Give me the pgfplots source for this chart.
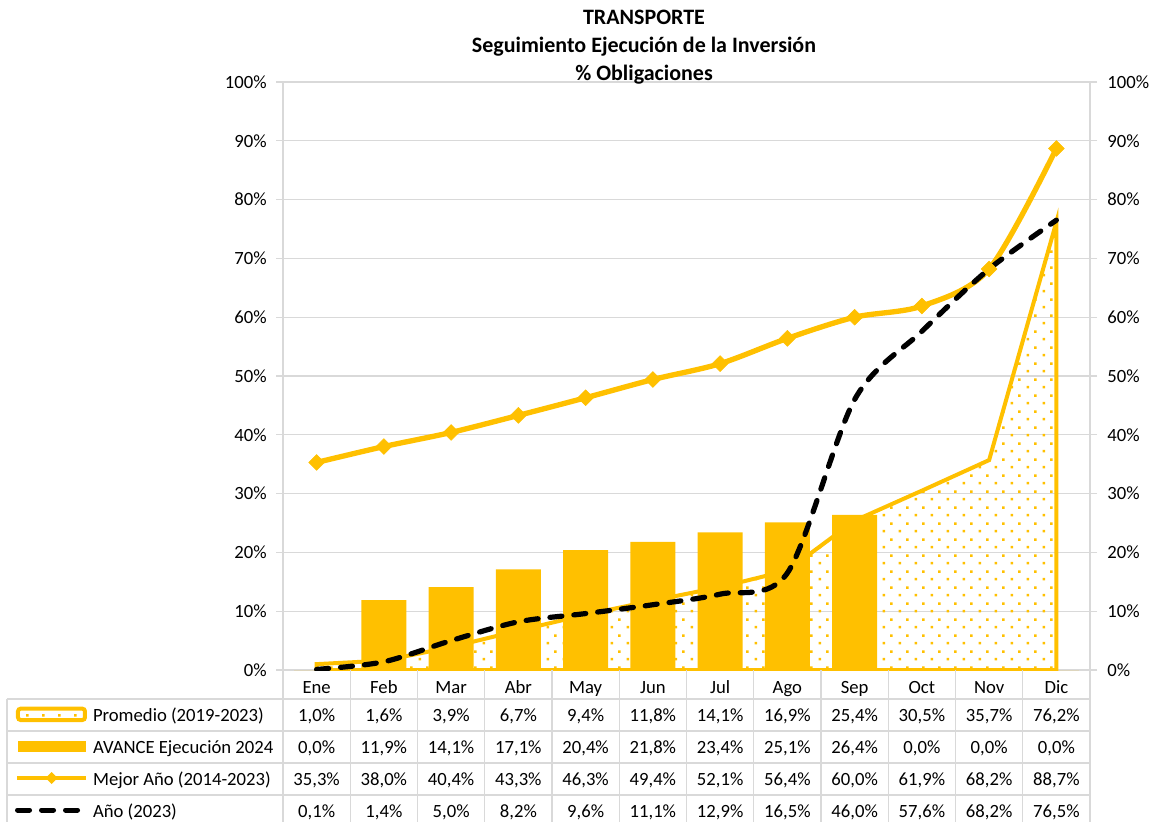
\documentclass[border=0pt]{standalone}
\usepackage{fontspec}
\setmainfont{Carlito}
\usepackage{pgfplots}
\usepackage{pgfplotstable}
\pgfplotsset{compat=1.18}
\usetikzlibrary{patterns}
\definecolor{gold}{HTML}{FFC000}
\definecolor{gridc}{HTML}{D9D9D9}
\pgfdeclarepatternformonly{ydots}{\pgfqpoint{0pt}{0pt}}{\pgfqpoint{12pt}{12pt}}{\pgfqpoint{12pt}{12pt}}{%
  \pgfpathrectangle{\pgfqpoint{2pt}{2pt}}{\pgfqpoint{2pt}{2pt}}%
  \pgfpathrectangle{\pgfqpoint{8pt}{8pt}}{\pgfqpoint{2pt}{2pt}}%
  \pgfusepath{fill}}
\pgfkeys{/pgf/number format/.cd, fixed, fixed zerofill, precision=1, use comma, assume math mode=true}
\newcommand{\bodyfont}{\fontsize{14}{16}\selectfont}
\newcommand{\titlefont}{\fontsize{16.5}{19}\selectfont\bfseries}

\pgfplotstableread{
x prom avance mejor anio
0  1.0  0.0 35.3  0.1
1  1.6 11.9 38.0  1.4
2  3.9 14.1 40.4  5.0
3  6.7 17.1 43.3  8.2
4  9.4 20.4 46.3  9.6
5 11.8 21.8 49.4 11.1
6 14.1 23.4 52.1 12.9
7 16.9 25.1 56.4 16.5
8 25.4 26.4 60.0 46.0
9 30.5  0.0 61.9 57.6
10 35.7 0.0 68.2 68.2
11 76.2 0.0 88.7 76.5
}\data

\begin{document}
\begin{tikzpicture}
\useasboundingbox (-212.25pt,-114pt) rectangle (654pt,502.5pt);
\begin{axis}[
  at={(0,0)}, anchor=south west, scale only axis,
  width=605.25pt, height=441pt,
  xmin=-0.5, xmax=11.5, ymin=0, ymax=100,
  ytick={0,10,...,100},
  yticklabels={0\%,10\%,20\%,30\%,40\%,50\%,60\%,70\%,80\%,90\%,100\%},
  ytick pos=left,
  ymajorgrids, grid style={gridc, line width=0.9pt},
  axis line style={gridc, line width=0.9pt},
  xtick={0,...,11},
  xticklabels={Ene,Feb,Mar,Abr,May,Jun,Jul,Ago,Sep,Oct,Nov,Dic},
  xtick style={draw=none},
  xticklabel style={anchor=base, yshift=-12pt},
  ytick style={gridc, line width=0.9pt},
  tick align=outside, major tick length=5.25pt,
  yticklabel shift=3.5pt,
  tick label style={font=\bodyfont, text=black},
]
\addplot[draw=gold, line width=3pt, pattern=ydots, pattern color=gold]
  table[x=x, y=prom]{\data} \closedcycle;
\addplot[ybar, bar width=33.75pt, fill=gold, draw=none]
  table[x=x, y=avance]{\data};
\addplot[gold, line width=4pt, smooth, mark=square*, mark size=4.2pt,
  mark options={rotate=45, fill=gold, draw=gold, line width=0.4pt, solid}]
  table[x=x, y=mejor]{\data};
\addplot[black, line width=3.9pt, smooth, line cap=round, dash pattern=on 9pt off 9pt]
  table[x=x, y=anio]{\data};
\end{axis}
\begin{axis}[
  at={(0,0)}, anchor=south west, scale only axis,
  width=605.25pt, height=441pt,
  xmin=-0.5, xmax=11.5, ymin=0, ymax=100,
  axis x line=none, axis y line*=right,
  ytick={0,10,...,100},
  yticklabels={0\%,10\%,20\%,30\%,40\%,50\%,60\%,70\%,80\%,90\%,100\%},
  axis line style={gridc, line width=0.9pt},
  ytick style={gridc, line width=0.9pt},
  tick align=outside, major tick length=5.25pt,
  yticklabel shift=4.25pt,
  tick label style={font=\bodyfont, text=black},
]
\addplot[draw=none] coordinates {(0,0)};
\end{axis}
% title
\node[anchor=base, font=\titlefont] at (270.75pt,483.75pt) {TRANSPORTE};
\node[anchor=base, font=\titlefont] at (270.75pt,462.75pt) {Seguimiento Ejecución de la Inversión};
\node[anchor=base, font=\titlefont] at (270.75pt,441.75pt) {\% Obligaciones};
% data table grid
\foreach \k in {0,...,12}{
  \draw[gridc, line width=0.9pt] ({\k*50.4375pt},0pt) -- ({\k*50.4375pt},-114pt);
}
\draw[gridc, line width=0.9pt] (-207pt,-21.75pt) -- (-207pt,-114pt);
\foreach \yy in {-21.75,-45.75,-69.75,-93.75}{
  \draw[gridc, line width=0.9pt] (-207pt,\yy pt) -- (605.25pt,\yy pt);
}
% legend keys
\draw[gold, line width=3pt, rounded corners=2pt, pattern=ydots, pattern color=gold]
  (-198.75pt,-37.5pt) rectangle (-148.5pt,-29pt);
\fill[gold] (-198.75pt,-61.5pt) rectangle (-147.75pt,-53.25pt);
\draw[gold, line width=3.5pt] (-199.5pt,-81pt) -- (-148pt,-81pt);
\fill[gold] (-173.6pt,-81pt) +(0,4.5pt) -- +(4.5pt,0) -- +(0,-4.5pt) -- +(-4.5pt,0) -- cycle;
\draw[black, line width=3.75pt, line cap=round, dash pattern=on 9pt off 9pt]
  (-199.1pt,-105pt) -- (-154.1pt,-105pt);
% legend texts
\node[anchor=base west, font=\bodyfont] at (-146pt,-38.75pt) {Promedio (2019-2023)};
\node[anchor=base west, font=\bodyfont] at (-146pt,-62.75pt) {AVANCE Ejecución 2024};
\node[anchor=base west, font=\bodyfont] at (-146pt,-86.75pt) {Mejor Año (2014-2023)};
\node[anchor=base west, font=\bodyfont] at (-146pt,-110.75pt) {Año (2023)};
% values
\foreach \i in {0,...,11}{
  \pgfplotstablegetelem{\i}{prom}\of\data
  \node[anchor=base, font=\bodyfont] at ({(\i+0.5)*50.4375pt},-38.75pt) {\pgfmathprintnumber{\pgfplotsretval}\%};
  \pgfplotstablegetelem{\i}{avance}\of\data
  \node[anchor=base, font=\bodyfont] at ({(\i+0.5)*50.4375pt},-62.75pt) {\pgfmathprintnumber{\pgfplotsretval}\%};
  \pgfplotstablegetelem{\i}{mejor}\of\data
  \node[anchor=base, font=\bodyfont] at ({(\i+0.5)*50.4375pt},-86.75pt) {\pgfmathprintnumber{\pgfplotsretval}\%};
  \pgfplotstablegetelem{\i}{anio}\of\data
  \node[anchor=base, font=\bodyfont] at ({(\i+0.5)*50.4375pt},-110.75pt) {\pgfmathprintnumber{\pgfplotsretval}\%};
}
\end{tikzpicture}
\end{document}
